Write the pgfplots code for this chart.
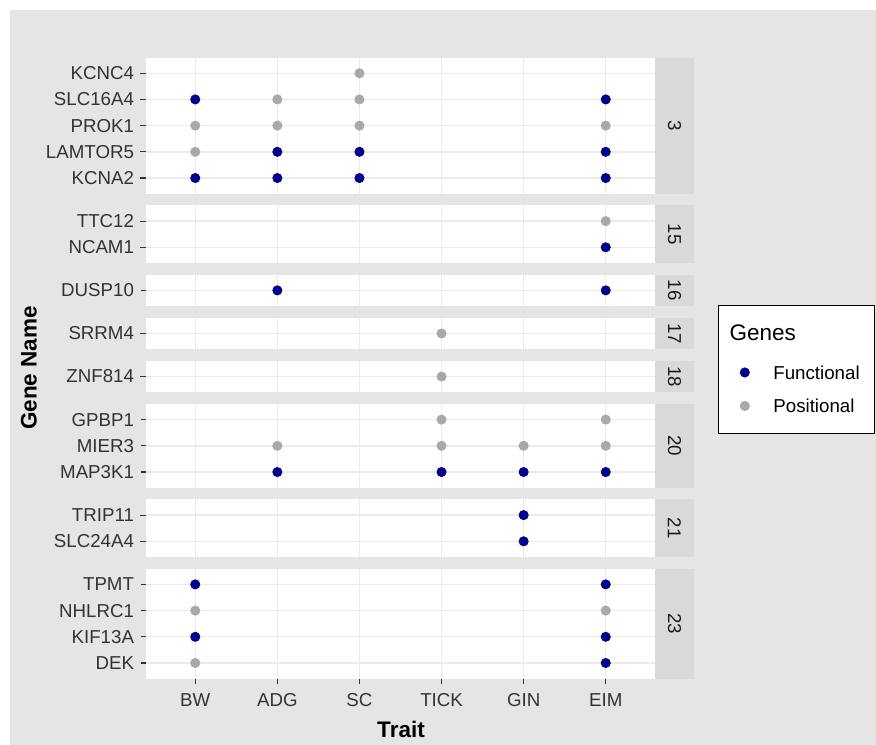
\documentclass[border=0pt]{standalone}
\usepackage{pgfplots}
\pgfplotsset{compat=1.18}
\usepackage{fontspec}
\setmainfont{Liberation Sans}
\definecolor{fun}{HTML}{00008B}
\definecolor{pos}{HTML}{A9A9A9}
\definecolor{bg}{HTML}{E5E5E5}
\definecolor{stripfill}{HTML}{D9D9D9}
\definecolor{gridc}{HTML}{EBEBEB}
\definecolor{tickc}{HTML}{333333}
\definecolor{labc}{HTML}{333333}
\definecolor{stripc}{HTML}{1A1A1A}
\newcommand\ticfont{\fontsize{18.7bp}{21bp}\selectfont}
\newcommand\titfont{\fontsize{22.5bp}{26bp}\selectfont\bfseries}
\newcommand\strip[1]{%
  \fill[stripfill] (rel axis cs:1,0) rectangle ([xshift=39bp]rel axis cs:1,1);
  \node[rotate=-90, text=stripc, font=\ticfont] at ([xshift=19.5bp]rel axis cs:1,0.5) {#1};}
\pgfplotsset{
  panel/.style={
    scale only axis, width=509bp, xmin=0.4, xmax=6.6, ymin=0.4,
    axis background/.style={fill=white},
    axis line style={draw=none},
    xmajorgrids, ymajorgrids,
    major grid style={gridc, line width=1.4bp},
    xtick={1,2,3,4,5,6},
    tick align=outside, major tick length=5.5bp,
    tick style={tickc, line width=1.1bp},
    ytick pos=left, xtick pos=bottom,
    x tick style={draw=none}, xticklabels={},
    tick label style={font=\ticfont, text=labc},
    yticklabel style={xshift=-3bp},
    clip=false, anchor=south west,
  },
  dotF/.style={only marks, mark=*, mark size=4.6bp, draw=fun, fill=fun, line width=0.8bp},
  dotP/.style={only marks, mark=*, mark size=4.6bp, draw=pos, fill=pos, line width=0.8bp},
  dotlegend/.style={legend image code/.code={\draw[##1] plot coordinates {(0bp,0bp)};}},
}
\begin{document}
\begin{tikzpicture}
\useasboundingbox (0,0) rectangle (876bp,-745bp);
\fill[white] (0,0) rectangle (876bp,-745bp);
\fill[bg] (9.5bp,-9.5bp) rectangle (876bp,-745bp);
% legend frame and title
\draw[black, line width=1bp, fill=white] (718bp,-305bp) rectangle (874bp,-433bp);
\node[anchor=base west, inner sep=0pt, font=\fontsize{22.5bp}{26bp}\selectfont] at (729.5bp,-340bp) {Genes};
% axis titles
\node[rotate=90, anchor=base, font=\titfont] at (36.5bp,-368bp) {Gene Name};
\node[anchor=base, font=\titfont] at (401bp,-737bp) {Trait};

% chromosome 3
\begin{axis}[panel, at={(146bp,-193.74bp)}, height=136.24bp, ymax=5.6,
  ytick={1,2,3,4,5}, yticklabels={KCNA2,LAMTOR5,PROK1,SLC16A4,KCNC4},
  legend style={at={(1.16699,-1.2607)}, anchor=north west, draw=none, fill=none,
    inner sep=0bp, row sep=20bp, column sep=24bp,
    nodes={inner sep=0bp, text height=13.5bp, text depth=0bp, font=\ticfont, text=black}},
  legend cell align=left]
\addplot[dotF, dotlegend] coordinates {(1,4) (6,4) (2,2) (3,2) (6,2) (1,1) (2,1) (3,1) (6,1)};
\addlegendentry{Functional}
\addplot[dotP, dotlegend] coordinates {(3,5) (2,4) (3,4) (1,3) (2,3) (3,3) (6,3) (1,2)};
\addlegendentry{Positional}
\strip{3}
\end{axis}

% chromosome 15
\begin{axis}[panel, at={(146bp,-263.02bp)}, height=57.64bp, ymax=2.6,
  ytick={1,2}, yticklabels={NCAM1,TTC12}]
\addplot[dotF] coordinates {(6,1)};
\addplot[dotP] coordinates {(6,2)};
\strip{15}
\end{axis}

% chromosome 16
\begin{axis}[panel, at={(146bp,-306.10bp)}, height=31.44bp, ymax=1.6,
  ytick={1}, yticklabels={DUSP10}]
\addplot[dotF] coordinates {(2,1) (6,1)};
\strip{16}
\end{axis}

% chromosome 17
\begin{axis}[panel, at={(146bp,-349.18bp)}, height=31.44bp, ymax=1.6,
  ytick={1}, yticklabels={SRRM4}]
\addplot[dotP] coordinates {(4,1)};
\strip{17}
\end{axis}

% chromosome 18
\begin{axis}[panel, at={(146bp,-392.26bp)}, height=31.44bp, ymax=1.6,
  ytick={1}, yticklabels={ZNF814}]
\addplot[dotP] coordinates {(4,1)};
\strip{18}
\end{axis}

% chromosome 20
\begin{axis}[panel, at={(146bp,-487.74bp)}, height=83.84bp, ymax=3.6,
  ytick={1,2,3}, yticklabels={MAP3K1,MIER3,GPBP1}]
\addplot[dotF] coordinates {(2,1) (4,1) (5,1) (6,1)};
\addplot[dotP] coordinates {(4,3) (6,3) (2,2) (4,2) (5,2) (6,2)};
\strip{20}
\end{axis}

% chromosome 21
\begin{axis}[panel, at={(146bp,-557.02bp)}, height=57.64bp, ymax=2.6,
  ytick={1,2}, yticklabels={SLC24A4,TRIP11}]
\addplot[dotF] coordinates {(5,1) (5,2)};
\strip{21}
\end{axis}

% chromosome 23
\begin{axis}[panel, at={(146bp,-678.70bp)}, height=110.04bp, ymax=4.6,
  ytick={1,2,3,4}, yticklabels={DEK,KIF13A,NHLRC1,TPMT},
  x tick style={draw=tickc}, xticklabels={BW,ADG,SC,TICK,GIN,EIM},
  xticklabel style={yshift=-5.5bp}]
\addplot[dotF] coordinates {(1,4) (6,4) (1,2) (6,2) (6,1)};
\addplot[dotP] coordinates {(1,3) (6,3) (1,1)};
\strip{23}
\end{axis}
\end{tikzpicture}
\end{document}
